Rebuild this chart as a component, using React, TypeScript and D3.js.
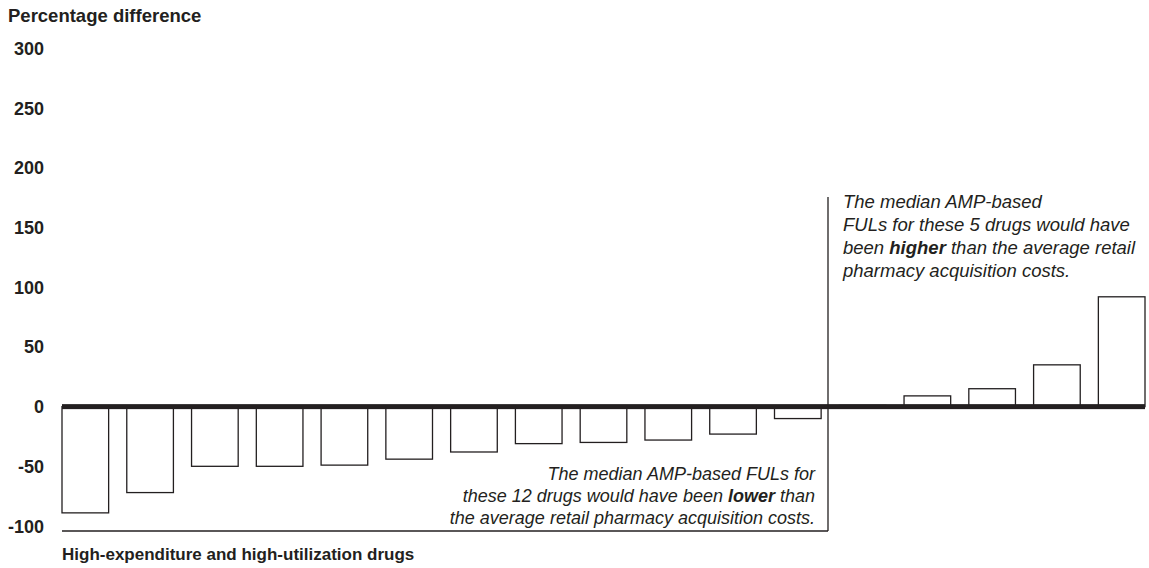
import React from "react";
import * as d3 from "d3";

// Percentage difference between median AMP-based FULs and average retail acquisition cost
const drugs = [
  "Drug 1", "Drug 2", "Drug 3", "Drug 4", "Drug 5", "Drug 6", "Drug 7", "Drug 8", "Drug 9",
  "Drug 10", "Drug 11", "Drug 12", "Drug 13", "Drug 14", "Drug 15", "Drug 16", "Drug 17",
];
const pctDiff = [-89, -72, -50, -50, -49, -44, -38, -31, -30, -28, -23, -10, 1, 9, 15, 35, 92];
const yTicks = [300, 250, 200, 150, 100, 50, 0, -50, -100];

const lowerNote = [
  ["The median AMP-based FULs for"],
  ["these 12 drugs would have been ", "lower", " than"],
  ["the average retail pharmacy acquisition costs."],
];
const upperNote = [
  ["The median AMP-based"],
  ["FULs for these 5 drugs would have"],
  ["been ", "higher", " than the average retail"],
  ["pharmacy acquisition costs."],
];

const W = 1149;
const H = 568;
const FONT = "'Liberation Sans', Arial, Helvetica, sans-serif";
const INK = "#231f20";

export default function App() {
  const x = d3.scaleBand<string>().domain(drugs).range([62, 1145]).paddingInner(0.28).paddingOuter(0);
  const y = d3.scaleLinear().domain([-100, 300]).range([526, 48.5]);
  const y0 = y(0);
  const divX = 828;
  const boxBottom = 531;

  // bold middle word in a line
  const renderLine = (parts: string[]) =>
    parts.map((p, i) => (
      <tspan key={i} fontWeight={parts.length === 3 && i === 1 ? "bold" : "normal"}>
        {p}
      </tspan>
    ));

  return (
    <div style={{ position: "absolute", left: 0, top: 0 }}>
      <svg width={W} height={H} style={{ display: "block", background: "#fff" }} fontFamily={FONT}>
        <text x={8} y={22} fontSize={18.5} fontWeight="bold" fill={INK}>
          Percentage difference
        </text>

        {yTicks.map((t) => (
          <text key={t} x={44} y={y(t) + 6.5} fontSize={18} fontWeight="bold" textAnchor="end" fill={INK}>
            {t}
          </text>
        ))}

        {drugs.map((d, i) => {
          const v = pctDiff[i];
          const top = Math.min(y(v), y0);
          const h = Math.abs(y(v) - y0);
          return (
            <rect
              key={d}
              x={x(d)}
              y={top}
              width={x.bandwidth()}
              height={h}
              fill="#fff"
              stroke={INK}
              strokeWidth={1.3}
            />
          );
        })}

        {/* zero baseline */}
        <rect x={62} y={y0 - 2.5} width={1145 - 62} height={5} fill={INK} />

        {/* annotation frame */}
        <line x1={divX} x2={divX} y1={197} y2={boxBottom} stroke={INK} strokeWidth={1.3} />
        <line x1={62} x2={divX} y1={boxBottom} y2={boxBottom} stroke={INK} strokeWidth={1.3} />

        <text fontSize={18} fontStyle="italic" fill={INK} textAnchor="end">
          {lowerNote.map((parts, i) => (
            <tspan key={i} x={815} y={479.5 + i * 22}>
              {renderLine(parts)}
            </tspan>
          ))}
        </text>

        <text fontSize={18.5} fontStyle="italic" fill={INK}>
          {upperNote.map((parts, i) => (
            <tspan key={i} x={843} y={207.5 + i * 23.3}>
              {renderLine(parts)}
            </tspan>
          ))}
        </text>

        <text x={62} y={560} fontSize={17} fontWeight="bold" fill={INK}>
          High-expenditure and high-utilization drugs
        </text>
      </svg>
    </div>
  );
}
